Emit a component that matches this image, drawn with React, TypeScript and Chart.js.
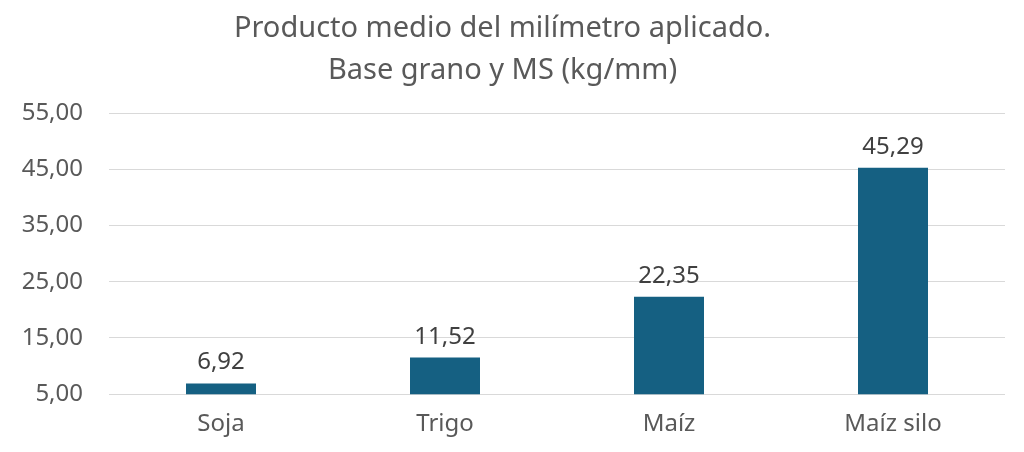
import React, { useEffect, useRef } from "react";
import { Chart, registerables } from "chart.js";

Chart.register(...registerables);

const categories = ["Soja", "Trigo", "Maíz", "Maíz silo"];
const values = [6.92, 11.52, 22.35, 45.29];
const titleLines = ["Producto medio del milímetro aplicado.", "Base grano y MS (kg/mm)"];
const yTicks = [5, 15, 25, 35, 45, 55];

const FONT = "'Noto Sans', sans-serif";
const fmt = (v: number) => v.toFixed(2).replace(".", ",");

const labelPlugin = {
  id: "barLabels",
  afterDatasetsDraw(chart: any) {
    const ctx = chart.ctx;
    const meta = chart.getDatasetMeta(0);
    ctx.save();
    ctx.font = `24px ${FONT}`;
    ctx.fillStyle = "#404040";
    ctx.textAlign = "center";
    ctx.textBaseline = "alphabetic";
    meta.data.forEach((bar: any, i: number) => {
      ctx.fillText(fmt(values[i]), bar.x, bar.y - 14);
    });
    ctx.restore();
  },
};

export default function App() {
  const ref = useRef<HTMLCanvasElement | null>(null);
  useEffect(() => {
    if (!ref.current) return;
    const chart = new Chart(ref.current, {
      type: "bar",
      data: {
        labels: categories,
        datasets: [
          {
            data: values,
            backgroundColor: "#156082",
            categoryPercentage: 1,
            barPercentage: 0.3125,
          },
        ],
      },
      options: {
        animation: false,
        responsive: false,
        layout: { padding: { left: 0, right: 19, top: 8, bottom: 5 } },
        plugins: {
          legend: { display: false },
          tooltip: { enabled: false },
          title: {
            display: true,
            text: titleLines,
            color: "#595959",
            font: { family: FONT, size: 29, weight: "normal", lineHeight: 1.45 },
            padding: { top: 0, bottom: 21 },
          },
        },
        scales: {
          x: {
            grid: { display: false },
            border: { display: false },
            ticks: { color: "#595959", font: { family: FONT, size: 24 }, padding: 8 },
          },
          y: {
            min: yTicks[0],
            max: yTicks[yTicks.length - 1],
            afterBuildTicks: (axis: any) => {
              axis.ticks = yTicks.map((v) => ({ value: v }));
            },
            afterFit: (axis: any) => {
              axis.width = 109;
            },
            grid: { color: "#d9d9d9", lineWidth: 1, drawTicks: false },
            border: { display: false },
            ticks: {
              color: "#595959",
              font: { family: FONT, size: 24 },
              padding: 26,
              callback: (v: any) => fmt(Number(v)),
            },
          },
        },
      },
      plugins: [labelPlugin],
    });
    return () => chart.destroy();
  }, []);
  return (
    <div style={{ position: "fixed", left: 0, top: 0, width: 1024, height: 452, background: "#fff" }}>
      <canvas ref={ref} width={1024} height={452} style={{ width: 1024, height: 452 }} />
    </div>
  );
}
